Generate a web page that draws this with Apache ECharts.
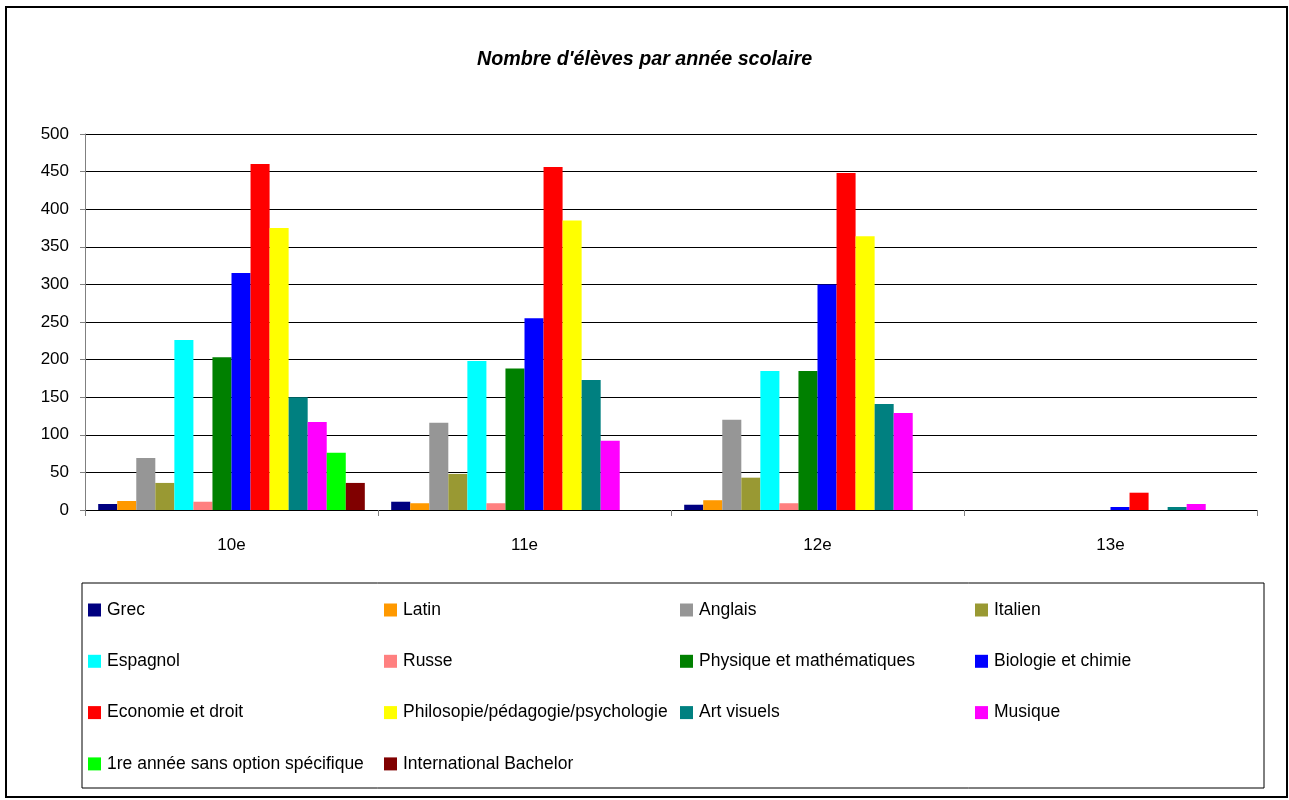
<!DOCTYPE html>
<html>
<head>
<meta charset="utf-8">
<title>Nombre d'élèves par année scolaire</title>
<script src="https://cdn.jsdelivr.net/npm/echarts@6/dist/echarts.min.js"></script>
<style>
  html, body { margin: 0; padding: 0; background: #fff; }
  #chart { width: 1289px; height: 800px; }
</style>
</head>
<body>
<div id="chart"></div>
<script>
// categories (school year)
var annees = ['10e', '11e', '12e', '13e'];

// values per option
var grec        = [8, 11, 7, 0];
var latin       = [12, 9, 13, 0];
var anglais     = [69, 116, 120, 0];
var italien     = [36, 48, 43, 0];
var espagnol    = [226, 198, 185, 0];
var russe       = [11, 9, 9, 0];
var physique    = [203, 188, 185, 0];
var biologie    = [315, 255, 300, 4];
var economie    = [460, 456, 448, 23];
var philosophie = [375, 385, 364, 0];
var artVisuels  = [150, 173, 141, 4];
var musique     = [117, 92, 129, 8];
var premiere    = [76, null, null, null];
var intBach     = [36, null, null, null];

var yTicks = { min: 0, max: 500, interval: 50 };

var seriesDef = [
  ['Grec', grec, '#000080'],
  ['Latin', latin, '#FF9900'],
  ['Anglais', anglais, '#969696'],
  ['Italien', italien, '#999933'],
  ['Espagnol', espagnol, '#00FFFF'],
  ['Russe', russe, '#FF8080'],
  ['Physique et mathématiques', physique, '#008000'],
  ['Biologie et chimie', biologie, '#0000FF'],
  ['Economie et droit', economie, '#FF0000'],
  ['Philosopie/pédagogie/psychologie', philosophie, '#FFFF00'],
  ['Art visuels', artVisuels, '#008080'],
  ['Musique', musique, '#FF00FF'],
  ['1re année sans option spécifique', premiere, '#00FF00'],
  ['International Bachelor', intBach, '#800000']
];

var font = "'Liberation Sans', Arial, sans-serif";

var series = seriesDef.map(function (d) {
  return {
    name: d[0],
    type: 'bar',
    data: d[1],
    barGap: '0%',
    barCategoryGap: '9%',
    itemStyle: { color: d[2] },
    animation: false
  };
});

// legend laid out in 4 columns like the original
var colX = [88, 384, 680, 975];
var legends = colX.map(function (x, c) {
  var names = [];
  for (var i = c; i < seriesDef.length; i += 4) names.push(seriesDef[i][0]);
  return {
    orient: 'vertical',
    left: x,
    top: 600,
    padding: 0,
    itemWidth: 13,
    itemHeight: 13,
    itemGap: 31.3,
    icon: 'rect',
    selectedMode: false,
    data: names,
    textStyle: { fontFamily: font, fontSize: 17.5, color: '#000', lineHeight: 20, padding: [0, 0, 0, 1] }
  };
});

var myChart = echarts.init(document.getElementById('chart'));
var option = {
  backgroundColor: '#fff',
  animation: false,
  title: {
    text: "Nombre d'élèves par année scolaire",
    left: 'center',
    top: 45,
    textStyle: { fontFamily: font, fontSize: 19.7, fontWeight: 'bold', fontStyle: 'italic', color: '#000' }
  },
  legend: legends,
  grid: { left: 85, right: 32, top: 134, bottom: 290 },
  xAxis: {
    type: 'category',
    data: annees,
    axisLine: { lineStyle: { color: '#000', width: 1 } },
    axisTick: { show: true, length: 6, lineStyle: { color: '#808080' } },
    axisLabel: { fontFamily: font, fontSize: 17, color: '#000', margin: 27 }
  },
  yAxis: {
    type: 'value',
    min: yTicks.min,
    max: yTicks.max,
    interval: yTicks.interval,
    axisLine: { show: true, lineStyle: { color: '#808080' } },
    axisTick: { show: true, length: 5, lineStyle: { color: '#808080' } },
    axisLabel: { fontFamily: font, fontSize: 17, color: '#000', margin: 16 },
    splitLine: { lineStyle: { color: '#000', width: 1 } }
  },
  graphic: [
    {
      type: 'rect',
      shape: { x: 6, y: 7, width: 1281, height: 790 },
      style: { fill: null, stroke: '#000', lineWidth: 2 },
      silent: true
    },
    {
      type: 'rect',
      shape: { x: 82, y: 583, width: 1182, height: 205 },
      style: { fill: null, stroke: '#000', lineWidth: 1 },
      silent: true
    }
  ],
  series: series
};

myChart.setOption(option);
window.onresize = myChart.resize;
</script>
</body>
</html>
